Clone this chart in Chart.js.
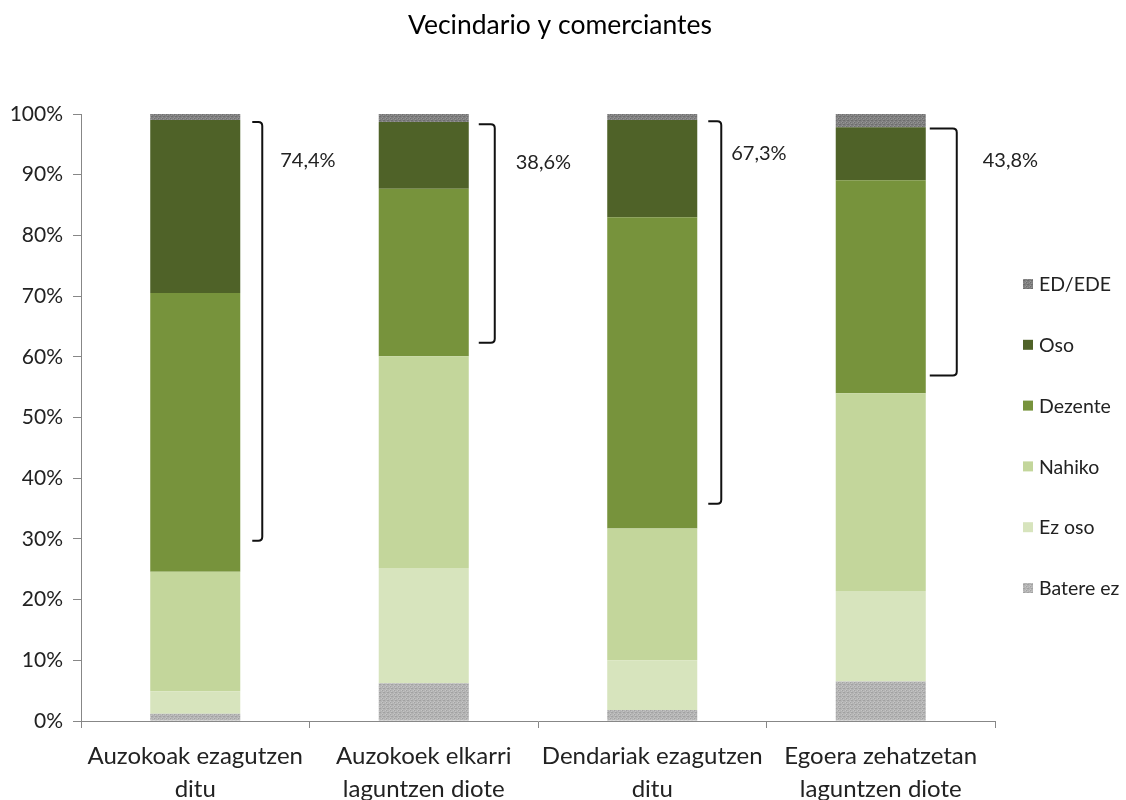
<!DOCTYPE html>
<html>
<head>
<meta charset="utf-8">
<script src="https://cdn.jsdelivr.net/npm/chart.js@4/dist/chart.umd.min.js"></script>
<style>
  html, body { margin: 0; padding: 0; background: #fff; }
  #wrap { width: 1126px; height: 800px; position: relative; }
</style>
</head>
<body>
<div id="wrap"><canvas id="c" width="1126" height="800"></canvas></div>
<script>
// ---- data ----
const title = 'Vecindario y comerciantes';
const categories = [
  ['Auzokoak ezagutzen', 'ditu'],
  ['Auzokoek elkarri', 'laguntzen diote'],
  ['Dendariak ezagutzen', 'ditu'],
  ['Egoera zehatzetan', 'laguntzen diote']
];
const seriesNames = ['Batere ez', 'Ez oso', 'Nahiko', 'Dezente', 'Oso', 'ED/EDE'];
const bateraEz = [1.2, 6.2, 1.8, 6.5];
const ezOso    = [3.7, 19.0, 8.2, 14.9];
const nahiko   = [19.7, 34.9, 21.7, 32.6];
const dezente  = [45.9, 27.6, 51.3, 35.1];
const oso      = [28.5, 11.0, 16.0, 8.7];
const edEde    = [1.0, 1.3, 1.0, 2.2];
const bracketTotals = [74.4, 38.6, 67.3, 43.8];
const bracketTop    = [98.7, 98.3, 98.8, 97.6];
const bracketBottom = [29.7, 62.3, 35.8, 56.9];
const yTicks = [0, 10, 20, 30, 40, 50, 60, 70, 80, 90, 100];

// ---- styles ----
function texture(base, dark, light) {
  const c = document.createElement('canvas');
  c.width = 4; c.height = 4;
  const g = c.getContext('2d');
  g.fillStyle = base; g.fillRect(0, 0, 4, 4);
  g.fillStyle = dark; g.fillRect(0, 0, 1, 1); g.fillRect(2, 2, 1, 1); g.fillRect(3, 0, 1, 1);
  g.fillStyle = light; g.fillRect(1, 2, 1, 1); g.fillRect(3, 3, 1, 1); g.fillRect(2, 1, 1, 1);
  return g.createPattern(c, 'repeat');
}
const colors = [
  texture('#b4b4b4', '#a2a2a2', '#c4c4c4'),
  '#d7e4bd',
  '#c3d69b',
  '#77933c',
  '#4f6228',
  texture('#808080', '#6e6e6e', '#959595')
];
const seriesData = [bateraEz, ezOso, nahiko, dezente, oso, edEde];
const FONT = 'Lato, "Open Sans", sans-serif';

const overlay = {
  id: 'overlay',
  afterDatasetsDraw(chart) {
    const ctx = chart.ctx, y = chart.scales.y;
    const meta = chart.getDatasetMeta(4);
    const gap = [12, 10, 11, 4], w = [10, 16, 13, 27];
    const ldx = [40, 47, 34, 57], ldy = [39, 38, 32, 32];
    ctx.save();
    ctx.strokeStyle = '#111';
    ctx.lineWidth = 2;
    meta.data.forEach((bar, i) => {
      const right = bar.x + bar.width / 2;
      const x0 = right + gap[i], x1 = x0 + w[i];
      const yt = y.getPixelForValue(bracketTop[i]);
      const yb = y.getPixelForValue(bracketBottom[i]);
      const r = 4;
      ctx.beginPath();
      ctx.moveTo(x0, yt);
      ctx.lineTo(x1 - r, yt);
      ctx.quadraticCurveTo(x1, yt, x1, yt + r);
      ctx.lineTo(x1, yb - r);
      ctx.quadraticCurveTo(x1, yb, x1 - r, yb);
      ctx.lineTo(x0, yb);
      ctx.stroke();
      ctx.fillStyle = '#222';
      ctx.font = '20px ' + FONT;
      ctx.textAlign = 'left';
      ctx.textBaseline = 'middle';
      ctx.fillText(bracketTotals[i].toFixed(1).replace('.', ',') + '%', right + ldx[i], yt + ldy[i]);
    });
    ctx.restore();
  },
  afterDraw(chart) {
    const ctx = chart.ctx;
    ctx.save();
    // title
    ctx.fillStyle = '#000';
    ctx.font = '26.5px ' + FONT;
    ctx.textAlign = 'center';
    ctx.textBaseline = 'middle';
    ctx.fillText(title, 560, 25);
    // legend (reverse order)
    ctx.font = '19.5px ' + FONT;
    ctx.textAlign = 'left';
    for (let k = 0; k < seriesNames.length; k++) {
      const i = seriesNames.length - 1 - k;
      const cy = 284 + k * 60.8;
      ctx.fillStyle = colors[i];
      ctx.fillRect(1023, cy - 5, 10, 10);
      ctx.fillStyle = '#222';
      ctx.fillText(seriesNames[i], 1039, cy + 1);
    }
    ctx.restore();
  }
};

new Chart(document.getElementById('c'), {
  type: 'bar',
  data: {
    labels: categories,
    datasets: seriesNames.map((n, i) => ({
      label: n,
      data: seriesData[i],
      backgroundColor: colors[i],
      borderWidth: 0,
      barPercentage: 0.394,
      categoryPercentage: 1.0
    }))
  },
  options: {
    responsive: false,
    animation: false,
    devicePixelRatio: 1,
    layout: { padding: { top: 114, right: 131, left: 0, bottom: 0 } },
    plugins: { legend: { display: false }, title: { display: false }, tooltip: { enabled: false } },
    scales: {
      x: {
        stacked: true,
        offset: true,
        afterFit(s) { s.height = 79; },
        grid: { display: true, offset: true, drawOnChartArea: false, tickLength: 7, color: '#878787', lineWidth: 1 },
        border: { color: '#878787', width: 1 },
        ticks: { color: '#222', font: { family: FONT, size: 24, lineHeight: 1.38 }, padding: 12, maxRotation: 0, autoSkip: false }
      },
      y: {
        stacked: true,
        min: 0, max: 100,
        afterFit(s) { s.width = 81; },
        afterBuildTicks(s) { s.ticks = yTicks.map(v => ({ value: v })); },
        grid: { display: true, drawOnChartArea: false, tickLength: 8, color: '#878787' },
        border: { color: '#878787', width: 1 },
        ticks: { color: '#222', font: { family: FONT, size: 21 }, padding: 10, callback: v => v + '%' }
      }
    }
  },
  plugins: [overlay]
});
</script>
</body>
</html>
